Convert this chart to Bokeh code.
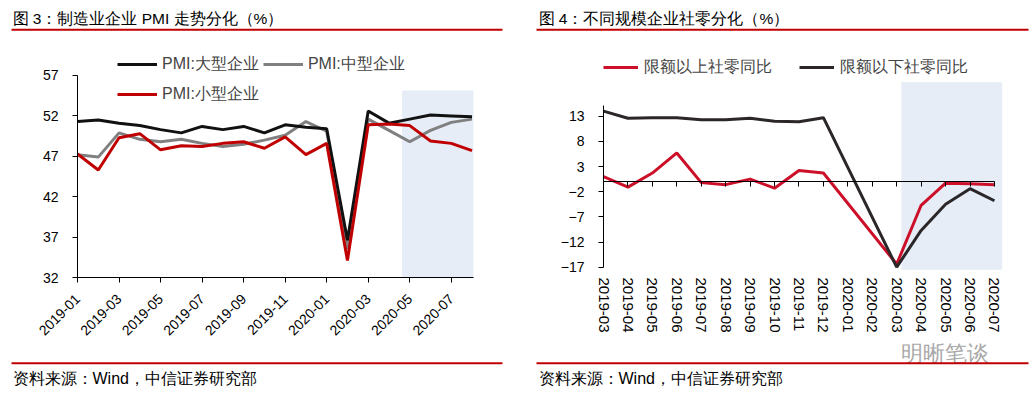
import math
from bokeh.plotting import figure
from bokeh.models import (Range1d, LinearAxis, FixedTicker, Legend, LegendItem,
                          Label, BoxAnnotation)
from bokeh.layouts import row, column
from bokeh.embed import file_html
from bokeh.resources import INLINE

# ---------------- data ----------------
months_left = ["2019-01", "2019-02", "2019-03", "2019-04", "2019-05", "2019-06",
               "2019-07", "2019-08", "2019-09", "2019-10", "2019-11", "2019-12",
               "2020-01", "2020-02", "2020-03", "2020-04", "2020-05", "2020-06",
               "2020-07", "2020-08"]
pmi_large = [51.3, 51.5, 51.1, 50.8, 50.3, 49.9, 50.7, 50.3, 50.7, 49.9, 50.9, 50.6,
             50.4, 36.6, 52.6, 51.1, 51.6, 52.1, 52.0, 51.9]
pmi_medium = [47.2, 46.9, 49.9, 49.1, 48.8, 49.1, 48.6, 48.2, 48.5, 49.0, 49.6, 51.3,
              50.1, 35.5, 51.6, 50.2, 48.8, 50.2, 51.2, 51.6]
pmi_small = [47.3, 45.3, 49.3, 49.8, 47.8, 48.3, 48.2, 48.6, 48.8, 48.0, 49.4, 47.2,
             48.6, 34.1, 50.9, 51.0, 50.8, 48.9, 48.6, 47.7]
left_yticks = [32, 37, 42, 47, 52, 57]
left_labels = ["PMI:大型企业", "PMI:中型企业", "PMI:小型企业"]

months_right = ["2019-03", "2019-04", "2019-05", "2019-06", "2019-07", "2019-08",
                "2019-09", "2019-10", "2019-11", "2019-12", "2020-01", "2020-02",
                "2020-03", "2020-04", "2020-05", "2020-06", "2020-07"]
retail_above = [1.0, -1.1, 1.7, 5.7, -0.2, -0.6, 0.5, -1.3, 2.2, 1.7, None, None,
                -16.4, -4.7, -0.3, -0.4, -0.6]
retail_below = [14.0, 12.6, 12.7, 12.7, 12.3, 12.3, 12.6, 12.0, 11.9, 12.7, None, None,
                -17.0, -9.7, -4.5, -1.4, -3.8]
right_yticks = [-17, -12, -7, -2, 3, 8, 13]
right_labels = ["限额以上社零同比", "限额以下社零同比"]

title_left = "图 3：制造业企业 PMI 走势分化（%）"
title_right = "图 4：不同规模企业社零分化（%）"
source_text = "资料来源：Wind，中信证券研究部"
watermark = "明晰笔谈"

FONT = "Liberation Sans"
RED_RULE = "#C00000"
SHADE = "#E6EDF7"

WL, WR = 516, 514
H_TITLE, H_CHART, H_SRC = 35, 307, 50
MB_CHART = 65


def blank_fig(width, height):
    p = figure(width=width, height=height, x_range=Range1d(0, width),
               y_range=Range1d(0, height), output_backend="svg",
               toolbar_location=None, x_axis_location=None, y_axis_location=None,
               min_border_left=0, min_border_right=0, min_border_top=0,
               min_border_bottom=0)
    p.xgrid.visible = False
    p.ygrid.visible = False
    p.outline_line_color = None
    p.background_fill_color = "white"
    p.border_fill_color = "white"
    return p


def rule(p, x0, x1, y0, y1):
    p.add_layout(BoxAnnotation(left=x0, right=x1, bottom=y0, top=y1,
                               left_units="screen", right_units="screen",
                               bottom_units="screen", top_units="screen",
                               fill_color=RED_RULE, fill_alpha=1, line_color=None))


def text(p, x, y, s, size, color="black"):
    p.add_layout(Label(x=x, y=y, x_units="screen", y_units="screen", text=s,
                       text_font=FONT, text_font_size=size, text_baseline="middle",
                       text_color=color))


def chart_fig(width, xr, yr, ml, mr):
    p = figure(width=width, height=H_CHART, x_range=xr, y_range=yr,
               output_backend="svg", toolbar_location=None,
               x_axis_location=None, y_axis_location=None,
               min_border_left=ml, min_border_right=mr,
               min_border_top=0, min_border_bottom=MB_CHART)
    p.xgrid.visible = False
    p.ygrid.visible = False
    p.outline_line_color = None
    p.background_fill_color = "white"
    p.border_fill_color = "white"
    return p


def style_axis(ax, size="14px"):
    ax.major_label_text_font = FONT
    ax.major_label_text_font_size = size
    ax.major_label_text_color = "black"
    ax.axis_line_color = "black"
    ax.major_tick_line_color = "black"
    ax.minor_tick_line_color = None
    ax.major_tick_in = 0
    ax.major_tick_out = 5


# ---------------- titles ----------------
tL = blank_fig(WL, H_TITLE)
text(tL, 12, 17.5, title_left, "15.5px")
rule(tL, 11, 502, 4.7, 6.7)
tR = blank_fig(WR, H_TITLE)
text(tR, 22, 17.5, title_right, "15.5px")
rule(tR, 20, 512, 4.7, 6.7)

# ---------------- left chart ----------------
nL = len(months_left)
xl = list(range(nL))
pL = chart_fig(WL, Range1d(0, 19.07), Range1d(32, 61.95), 77, 43)

shadeL_left = months_left.index("2020-05") - 0.37
pL.add_layout(BoxAnnotation(left=shadeL_left, right=19.08, bottom=32, top=55.14,
                            fill_color=SHADE, fill_alpha=1, line_color=None,
                            level="underlay"))

yaxL = LinearAxis(ticker=FixedTicker(ticks=left_yticks),
                  bounds=(left_yticks[0], left_yticks[-1]))
style_axis(yaxL)
yaxL.major_label_standoff = 14
pL.add_layout(yaxL, "left")

tick_idx_L = list(range(0, nL, 2))
xaxL = LinearAxis(ticker=FixedTicker(ticks=tick_idx_L),
                  major_label_overrides={i: months_left[i] for i in tick_idx_L},
                  major_label_orientation=math.pi / 4)
style_axis(xaxL)
xaxL.major_label_standoff = 14
pL.add_layout(xaxL, "below")

rL2 = pL.line(xl, pmi_medium, line_width=3, line_color="#808080")
rL1 = pL.line(xl, pmi_large, line_width=3, line_color="#111111")
rL3 = pL.line(xl, pmi_small, line_width=3, line_color="#C00000")
legL = Legend(items=[LegendItem(label=left_labels[0], renderers=[rL1]),
                     LegendItem(label=left_labels[1], renderers=[rL2]),
                     LegendItem(label=left_labels[2], renderers=[rL3])],
              location=(40, 170), orientation="horizontal", ncols=2,
              spacing=4, padding=0, margin=0, glyph_width=40, glyph_height=26,
              label_height=26, label_standoff=5, label_text_font=FONT,
              label_text_font_size="16px", background_fill_alpha=0,
              border_line_color=None)
pL.add_layout(legL)

# ---------------- right chart ----------------
nR = len(months_right)
pR = chart_fig(WR, Range1d(0, 16.33), Range1d(-19.05, 29.03), 87, 28)

shadeR_left = months_right.index("2020-03") + 0.19
pR.add_layout(BoxAnnotation(left=shadeR_left, right=16.33, bottom=-17.5, top=19.76,
                            fill_color=SHADE, fill_alpha=1, line_color=None,
                            level="underlay"))

yaxR = LinearAxis(ticker=FixedTicker(ticks=right_yticks), bounds=(right_yticks[0], 15.13))
style_axis(yaxR)
yaxR.major_label_standoff = 14
pR.add_layout(yaxR, "left")

idxR = list(range(nR))
xaxR_labels = LinearAxis(ticker=FixedTicker(ticks=idxR),
                         major_label_overrides={i: months_right[i] for i in idxR},
                         major_label_orientation="vertical")
style_axis(xaxR_labels, "15px")
xaxR_labels.axis_line_color = None
xaxR_labels.major_tick_line_color = None
xaxR_labels.major_tick_out = 0
xaxR_labels.major_label_standoff = 0
pR.add_layout(xaxR_labels, "below")

xaxR_zero = LinearAxis(ticker=FixedTicker(ticks=idxR), fixed_location=0,
                       bounds=(0, nR - 1),
                       major_label_overrides={i: "" for i in idxR})
style_axis(xaxR_zero, "0px")
xaxR_zero.major_label_standoff = 0
pR.add_layout(xaxR_zero, "below")

xa = [i for i, v in enumerate(retail_above) if v is not None]
ya = [v for v in retail_above if v is not None]
xb = [i for i, v in enumerate(retail_below) if v is not None]
yb = [v for v in retail_below if v is not None]
rR1 = pR.line(xa, ya, line_width=3, line_color="#CC1029")
rR2 = pR.line(xb, yb, line_width=3, line_color="#2B2628")
legR = Legend(items=[LegendItem(label=right_labels[0], renderers=[rR1]),
                     LegendItem(label=right_labels[1], renderers=[rR2])],
              location=(0, 196.7), orientation="horizontal",
              spacing=27, padding=0, margin=0, glyph_width=35, glyph_height=26,
              label_height=26, label_standoff=6, label_text_font=FONT,
              label_text_font_size="16px", background_fill_alpha=0,
              border_line_color=None)
pR.add_layout(legR)

# ---------------- sources ----------------
sL = blank_fig(WL, H_SRC)
rule(sL, 11, 502, 28.3, 30.3)
text(sL, 12, 14.5, source_text, "16px")
sR = blank_fig(WR, H_SRC)
text(sR, 384, 39, watermark, "22px", "#A8A8A8")
rule(sR, 20, 512, 28.3, 30.3)
text(sR, 22, 14.5, source_text, "16px")

layout = column(row(tL, tR, spacing=0), row(pL, pR, spacing=0),
                row(sL, sR, spacing=0), spacing=0)
open("out.html", "w").write(file_html(layout, INLINE))
